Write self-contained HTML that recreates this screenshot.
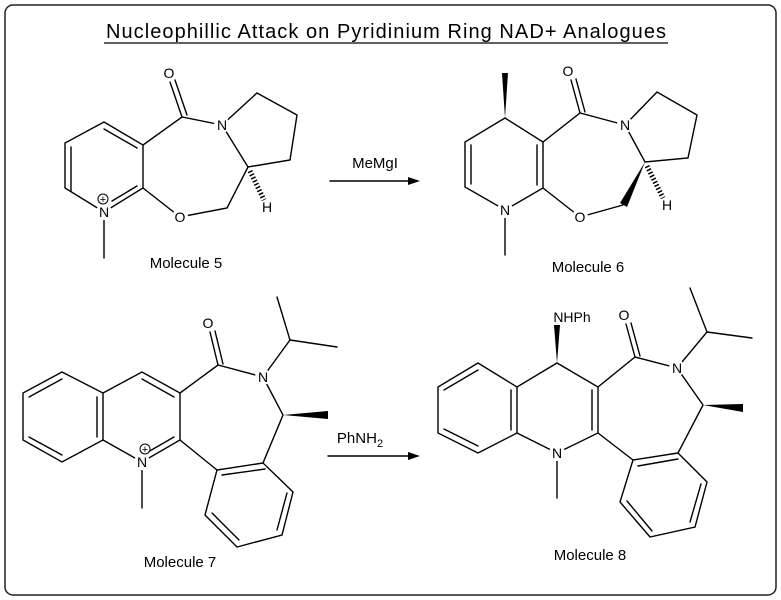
<!DOCTYPE html>
<html><head><meta charset="utf-8"><style>
html,body{margin:0;padding:0;background:#fff;}
svg{display:block;}
text{font-family:"Liberation Sans",sans-serif;fill:#000;}
.a{font-size:14px;text-anchor:middle;}
.l{font-size:15px;text-anchor:middle;}
</style></head><body>
<svg width="781" height="600" viewBox="0 0 781 600" xmlns="http://www.w3.org/2000/svg">
<rect x="5" y="5" width="771" height="590" rx="8" fill="#fff" stroke="#222" stroke-width="1.5"/>
<text x="386" y="38" style="font-size:20px" text-anchor="middle" textLength="560">Nucleophillic Attack on Pyridinium Ring NAD+ Analogues</text>
<line x1="104" y1="43" x2="668" y2="43" stroke="#000" stroke-width="1.2"/>
<g stroke="#000" stroke-width="1.4" fill="none" stroke-linecap="round">
<!-- Molecule 5 -->
<polyline points="104,122 143,145 143,188 104,212 65,188 65,143 104,122"/>
<line x1="104" y1="129" x2="137" y2="148"/><line x1="71" y1="147" x2="71" y2="191"/><line x1="112" y1="201" x2="137" y2="186"/>
<polyline points="143,145 182,117 222,125 257,93 297,115 290,160 248,167 222,125"/>
<polyline points="248,167 227,208 180,217 143,188"/>
<line x1="182" y1="117" x2="170" y2="82"/><line x1="187" y1="115" x2="175" y2="80"/>
<line x1="104" y1="212" x2="104" y2="258"/>
<line x1="250" y1="171" x2="264" y2="200" stroke-width="5" stroke-dasharray="1.5,2" stroke-linecap="butt"/>
<!-- Molecule 6 -->
<polyline points="505,118 543,142 543,188 505,210 465,187 465,142 505,118"/>
<line x1="471" y1="145" x2="471" y2="184"/><line x1="537" y1="145" x2="537" y2="185"/>
<polyline points="543,142 580,113 625,125 657,92 697,115 688,158 645,162 625,125"/>
<polyline points="623,205 580,217 543,188"/>
<line x1="580" y1="113" x2="571" y2="80"/><line x1="585" y1="112" x2="576" y2="79"/>
<line x1="505" y1="210" x2="505" y2="255"/>
<line x1="647" y1="166" x2="663" y2="198" stroke-width="5" stroke-dasharray="1.5,2" stroke-linecap="butt"/>
<!-- Arrows -->
<line x1="330" y1="181" x2="412" y2="181"/>
<line x1="328" y1="456" x2="412" y2="456"/>
<!-- Molecule 7 -->
<polyline points="62,372 103,393 103,440 62,462 23,440 23,393 62,372"/>
<line x1="62" y1="379" x2="29" y2="397"/><line x1="29" y1="437" x2="62" y2="455"/><line x1="97" y1="397" x2="97" y2="437"/>
<polyline points="103,393 142,372 180,393 180,440 142,462 103,440"/>
<line x1="142" y1="379" x2="174" y2="397"/><line x1="174" y1="437" x2="148" y2="452"/>
<polyline points="180,393 218,365 263,377 283,415 263,463 293,492 282,535 237,547 205,515 217,470 263,463"/>
<line x1="217" y1="470" x2="180" y2="440"/>
<line x1="265" y1="469" x2="222" y2="475"/><line x1="287" y1="493" x2="277" y2="530"/><line x1="239" y1="540" x2="212" y2="513"/>
<line x1="218" y1="365" x2="210" y2="332"/><line x1="223" y1="364" x2="215" y2="331"/>
<polyline points="263,377 290,340 277,297"/><line x1="290" y1="340" x2="337" y2="347"/>
<line x1="142" y1="462" x2="142" y2="508"/>
<!-- Molecule 8 -->
<polyline points="478,363 517,387 517,433 478,453 438,433 438,387 478,363"/>
<line x1="478" y1="370" x2="444" y2="390"/><line x1="444" y1="429" x2="478" y2="446"/><line x1="511" y1="390" x2="511" y2="430"/>
<polyline points="517,387 557,363 598,387 598,433 557,453 517,433"/>
<line x1="592" y1="390" x2="592" y2="430"/>
<polyline points="598,387 635,357 677,368 703,405 678,453 707,482 695,527 650,537 620,502 633,460 678,453"/>
<line x1="633" y1="460" x2="598" y2="433"/>
<line x1="678" y1="459" x2="638" y2="466"/><line x1="701" y1="484" x2="690" y2="522"/><line x1="652" y1="531" x2="627" y2="501"/>
<line x1="635" y1="357" x2="626" y2="324"/><line x1="640" y1="356" x2="631" y2="323"/>
<polyline points="677,368 707,332 690,288"/><line x1="707" y1="332" x2="752" y2="338"/>
<line x1="557" y1="453" x2="557" y2="498"/>
</g>
<g fill="#000" stroke="none">
<polygon points="505,118 502,73 508,73"/>
<polygon points="645,162 620,203 627,207"/>
<polygon points="283,415 328,411 328,419"/>
<polygon points="557,363 554,325 560,325"/>
<polygon points="703,405 743,404 743,412"/>
<polygon points="420,181 408,177 408,185"/>
<polygon points="420,456 408,452 408,460"/>
</g>
<!-- label backgrounds -->
<g fill="#fff">
<circle cx="169" cy="73" r="8"/><circle cx="222" cy="125" r="8"/><circle cx="104" cy="212" r="8"/><circle cx="180" cy="217" r="8"/><circle cx="267" cy="207" r="7"/>
<circle cx="568" cy="71" r="8"/><circle cx="625" cy="125" r="8"/><circle cx="505" cy="210" r="8"/><circle cx="580" cy="217" r="8"/><circle cx="667" cy="205" r="7"/>
<circle cx="208" cy="323" r="8"/><circle cx="263" cy="377" r="8"/><circle cx="142" cy="462" r="8"/>
<circle cx="624" cy="315" r="8"/><circle cx="677" cy="368" r="8"/><circle cx="557" cy="453" r="8"/>
</g>
<text class="a" x="169" y="78">O</text>
<text class="a" x="222" y="130">N</text>
<text class="a" x="104" y="217">N</text>
<circle cx="103" cy="199" r="5" fill="#fff" stroke="#000" stroke-width="1"/><text x="103" y="203" font-size="11" text-anchor="middle">+</text>
<text class="a" x="180" y="222">O</text>
<text class="a" x="267" y="212">H</text>
<text class="a" x="568" y="76">O</text>
<text class="a" x="625" y="130">N</text>
<text class="a" x="505" y="215">N</text>
<text class="a" x="580" y="222">O</text>
<text class="a" x="667" y="210">H</text>
<text class="a" x="208" y="328">O</text>
<text class="a" x="263" y="382">N</text>
<text class="a" x="142" y="467">N</text>
<circle cx="145" cy="449" r="5" fill="#fff" stroke="#000" stroke-width="1"/><text x="145" y="453" font-size="11" text-anchor="middle">+</text>
<text class="a" x="624" y="320">O</text>
<text class="a" x="677" y="373">N</text>
<text class="a" x="557" y="458">N</text>
<text class="a" x="572" y="322">NHPh</text>
<text class="l" x="375" y="168">MeMgI</text>
<text class="l" x="360" y="443">PhNH<tspan font-size="11" dy="4">2</tspan></text>
<text class="l" x="186" y="268">Molecule 5</text>
<text class="l" x="588" y="272">Molecule 6</text>
<text class="l" x="180" y="567">Molecule 7</text>
<text class="l" x="590" y="560">Molecule 8</text>
</svg>
</body></html>
